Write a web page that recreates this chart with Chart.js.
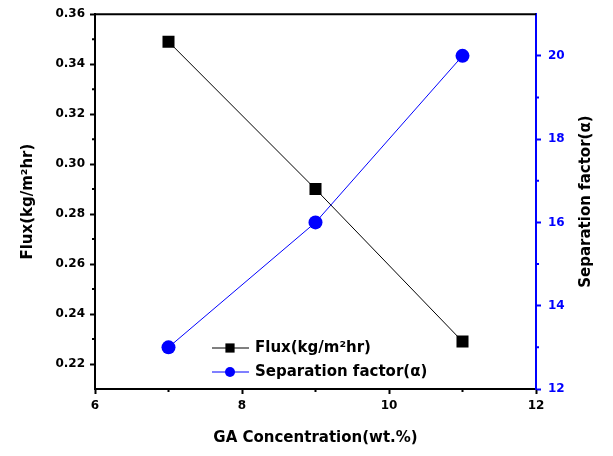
<!DOCTYPE html>
<html>
<head>
<meta charset="utf-8">
<script src="https://cdn.jsdelivr.net/npm/chart.js@4"></script>
<style>
  html, body { margin: 0; padding: 0; background: #fff; }
  #wrap { width: 613px; height: 456px; }
</style>
</head>
<body>
<div id="wrap"><canvas id="myChart" width="613" height="456"></canvas></div>
<script>
// data
const gaConc = [7, 9, 11];
const flux = [0.349, 0.290, 0.229];
const sepFactor = [13, 16, 20];

const xTicks = [6, 8, 10, 12];
const xMinor = [7, 9, 11];
const fluxTicks = [0.22, 0.24, 0.26, 0.28, 0.30, 0.32, 0.34, 0.36];
const fluxMinor = [0.23, 0.25, 0.27, 0.29, 0.31, 0.33, 0.35];
const sepTicks = [12, 14, 16, 18, 20];
const sepMinor = [13, 15, 17, 19];

const BLUE = '#0000ff';
const FONT = 'DejaVu Sans';

function toPoints(xs, ys) {
    return xs.map((x, i) => ({ x: x, y: ys[i] }));
}

const extras = {
    id: 'extras',
    afterDraw(chart) {
        const ctx = chart.ctx;
        const a = chart.chartArea;
        const sx = chart.scales.x, sy = chart.scales.y, sy1 = chart.scales.y1;
        ctx.save();
        // top frame line
        ctx.strokeStyle = '#000';
        ctx.lineWidth = 2;
        ctx.beginPath();
        ctx.moveTo(a.left - 1, a.top);
        ctx.lineTo(a.right, a.top);
        ctx.stroke();

        // minor ticks
        ctx.beginPath();
        xMinor.forEach(v => {
            const p = sx.getPixelForValue(v);
            ctx.moveTo(p, a.bottom); ctx.lineTo(p, a.bottom + 3);
        });
        fluxMinor.forEach(v => {
            const p = sy.getPixelForValue(v);
            ctx.moveTo(a.left, p); ctx.lineTo(a.left - 3, p);
        });
        ctx.stroke();
        ctx.strokeStyle = BLUE;
        ctx.beginPath();
        sepMinor.forEach(v => {
            const p = sy1.getPixelForValue(v);
            ctx.moveTo(a.right, p); ctx.lineTo(a.right + 3, p);
        });
        ctx.stroke();

        // right axis title, reading bottom to top
        ctx.fillStyle = '#000';
        ctx.font = 'bold 15px "' + FONT + '"';
        ctx.textAlign = 'center';
        ctx.textBaseline = 'middle';
        ctx.translate(586, (a.top + a.bottom) / 2);
        ctx.rotate(-Math.PI / 2);
        ctx.fillText('Separation factor(\u03b1)', 0, 0);
        ctx.restore();

        // legend inside plot
        ctx.save();
        ctx.font = 'bold 15px "' + FONT + '"';
        ctx.textAlign = 'left';
        ctx.textBaseline = 'middle';
        chart.data.datasets.forEach((ds, i) => {
            const y = 348 + i * 24;
            ctx.strokeStyle = ds.borderColor;
            ctx.lineWidth = 1;
            ctx.beginPath();
            ctx.moveTo(212, y); ctx.lineTo(249, y);
            ctx.stroke();
            ctx.fillStyle = ds.pointBackgroundColor;
            Chart.helpers.drawPoint(ctx, {
                pointStyle: ds.pointStyle, radius: ds.pointStyle === 'rect' ? 6.5 : 5,
                borderWidth: 0, rotation: 0
            }, 230, y);
            ctx.fillStyle = '#000';
            ctx.fillText(ds.label, 255, y);
        });
        ctx.restore();
    }
};

const ctx = document.getElementById('myChart');
const myChart = new Chart(ctx, {
    type: 'line',
    data: {
        datasets: [{
            label: 'Flux(kg/m\u00b2hr)',
            data: toPoints(gaConc, flux),
            yAxisID: 'y',
            borderColor: '#000',
            backgroundColor: '#000',
            pointBackgroundColor: '#000',
            pointBorderWidth: 0,
            pointStyle: 'rect',
            pointRadius: 8.5,
            borderWidth: 1,
            tension: 0
        }, {
            label: 'Separation factor(\u03b1)',
            data: toPoints(gaConc, sepFactor),
            yAxisID: 'y1',
            borderColor: BLUE,
            backgroundColor: BLUE,
            pointBackgroundColor: BLUE,
            pointBorderWidth: 0,
            pointStyle: 'circle',
            pointRadius: 7,
            borderWidth: 1,
            tension: 0
        }]
    },
    options: {
        responsive: false,
        animation: false,
        layout: { padding: { top: 14, left: 0, right: 0, bottom: 0 } },
        plugins: {
            legend: { display: false },
            tooltip: { enabled: false }
        },
        scales: {
            x: {
                type: 'linear',
                min: 6, max: 12,
                afterBuildTicks: s => { s.ticks = xTicks.map(v => ({ value: v })); },
                afterFit: s => { s.height = 67; },
                border: { color: '#000', width: 2 },
                grid: { drawOnChartArea: false, tickLength: 5, tickColor: '#000', tickWidth: 2 },
                ticks: { color: '#000', font: { family: FONT, size: 12, weight: 'bold' }, padding: 5, maxRotation: 0 },
                title: { display: true, text: 'GA Concentration(wt.%)', color: '#000',
                         font: { family: FONT, size: 15, weight: 'bold' }, padding: { top: 0, bottom: 9 } }
            },
            y: {
                position: 'left',
                min: 0.21, max: 0.36,
                afterBuildTicks: s => { s.ticks = fluxTicks.map(v => ({ value: v })); },
                afterFit: s => { s.width = 95; },
                border: { color: '#000', width: 2 },
                grid: { drawOnChartArea: false, tickLength: 5, tickColor: '#000', tickWidth: 2 },
                ticks: { color: '#000', font: { family: FONT, size: 12, weight: 'bold' }, padding: 5,
                         callback: v => v.toFixed(2) },
                title: { display: true, text: 'Flux(kg/m\u00b2hr)', color: '#000',
                         font: { family: FONT, size: 15, weight: 'bold' }, padding: { top: 19, bottom: 0 } }
            },
            y1: {
                position: 'right',
                min: 12, max: 21,
                afterBuildTicks: s => { s.ticks = sepTicks.map(v => ({ value: v })); },
                afterFit: s => { s.width = 77; },
                border: { color: BLUE, width: 2 },
                grid: { drawOnChartArea: false, tickLength: 5, tickColor: BLUE, tickWidth: 2 },
                ticks: { color: BLUE, font: { family: FONT, size: 12, weight: 'bold' }, padding: 7 }
            }
        }
    },
    plugins: [extras]
});
</script>
</body>
</html>
